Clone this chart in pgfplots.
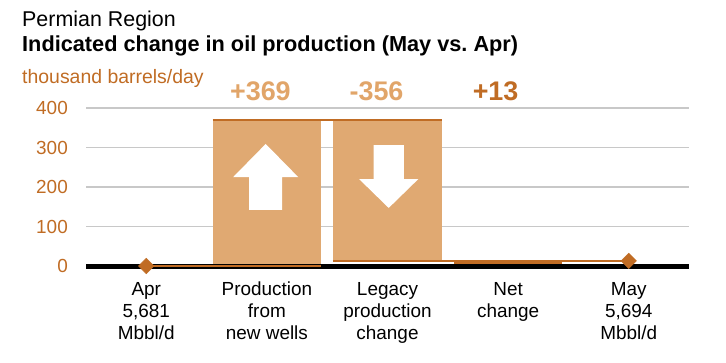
\documentclass[border=0pt]{standalone}
\usepackage{fontspec}
\setmainfont{Liberation Sans}
\usepackage{pgfplots}
\pgfplotsset{compat=1.18}
\definecolor{barlight}{RGB}{224,169,114}
\definecolor{labellight}{RGB}{225,165,105}
\definecolor{darkor}{RGB}{192,108,36}
\definecolor{gridc}{RGB}{200,200,200}
\begin{document}
\begin{tikzpicture}[x=1bp,y=1bp]
\path[use as bounding box] (0,0) rectangle (726,362);
\node[anchor=base west, inner sep=0pt, font=\fontsize{21.5}{24}\selectfont] at (22,336) {Permian Region};
\node[anchor=base west, inner sep=0pt, font=\fontsize{21.8}{24}\selectfont\bfseries] at (22,311) {Indicated change in oil production (May vs.\ Apr)};
\node[anchor=base west, inner sep=0pt, text=darkor, font=\fontsize{19.5}{24}\selectfont] at (22,279) {thousand barrels/day};
\begin{axis}[
  at={(86bp,96bp)}, anchor=south west, scale only axis,
  width=603bp, height=158bp,
  xmin=-0.5, xmax=4.5, ymin=0, ymax=400,
  clip=false,
  axis line style={draw=none},
  major tick length=0pt, tick style={draw=none},
  ytick={0,100,200,300,400},
  ymajorgrids, grid style={gridc, line width=1.5bp},
  xtick={0,1,2,3,4},
  xticklabels={{Apr\\5,681\\Mbbl/d},{Production\\from\\new wells},{Legacy\\production\\change},{Net\\change},{May\\5,694\\Mbbl/d}},
  xticklabel style={align=center, font=\fontsize{19}{22}\selectfont, anchor=north, inner sep=0pt, yshift=-16bp},
  yticklabel style={text=darkor, font=\fontsize{19}{22}\selectfont, anchor=east, inner sep=0pt, xshift=-18bp},
  /pgf/number format/assume math mode=true,
]
% bars
\addplot[fill=barlight, draw=none] coordinates {(0.55,0) (1.45,0) (1.45,369) (0.55,369)};
\addplot[fill=barlight, draw=none] coordinates {(1.55,13) (2.45,13) (2.45,369) (1.55,369)};
\addplot[fill=darkor, draw=none] coordinates {(2.55,0) (3.45,0) (3.45,13) (2.55,13)};
% arrows
\addplot[fill=white, draw=none] coordinates {(0.853,142) (1.127,142) (1.127,225) (1.26,225) (0.99,309) (0.72,225) (0.853,225)};
\addplot[fill=white, draw=none] coordinates {(1.885,306) (2.135,306) (2.135,220) (2.255,220) (2.01,147) (1.765,220) (1.885,220)};
% baseline
\addplot[black, line width=5bp] coordinates {(-0.5,0) (4.5,0)};
% connector lines
\addplot[darkor, line width=2bp] coordinates {(0,0) (1.45,0)};
\addplot[darkor, line width=2.5bp] coordinates {(0.55,369) (2.45,369)};
\addplot[darkor, line width=2bp] coordinates {(1.55,13) (4,13)};
% markers
\addplot[only marks, mark=square*, mark size=5.5bp, mark options={rotate=45, fill=darkor, draw=darkor}] coordinates {(0,0) (4,13)};
% value labels
\node[anchor=base, font=\fontsize{27}{30}\selectfont\bfseries, text=labellight] at (axis cs:0.946,420) {+369};
\node[anchor=base, font=\fontsize{27}{30}\selectfont\bfseries, text=labellight] at (axis cs:1.909,420) {-356};
\node[anchor=base, font=\fontsize{27}{30}\selectfont\bfseries, text=darkor] at (axis cs:2.896,420) {+13};
\end{axis}
\end{tikzpicture}
\end{document}
